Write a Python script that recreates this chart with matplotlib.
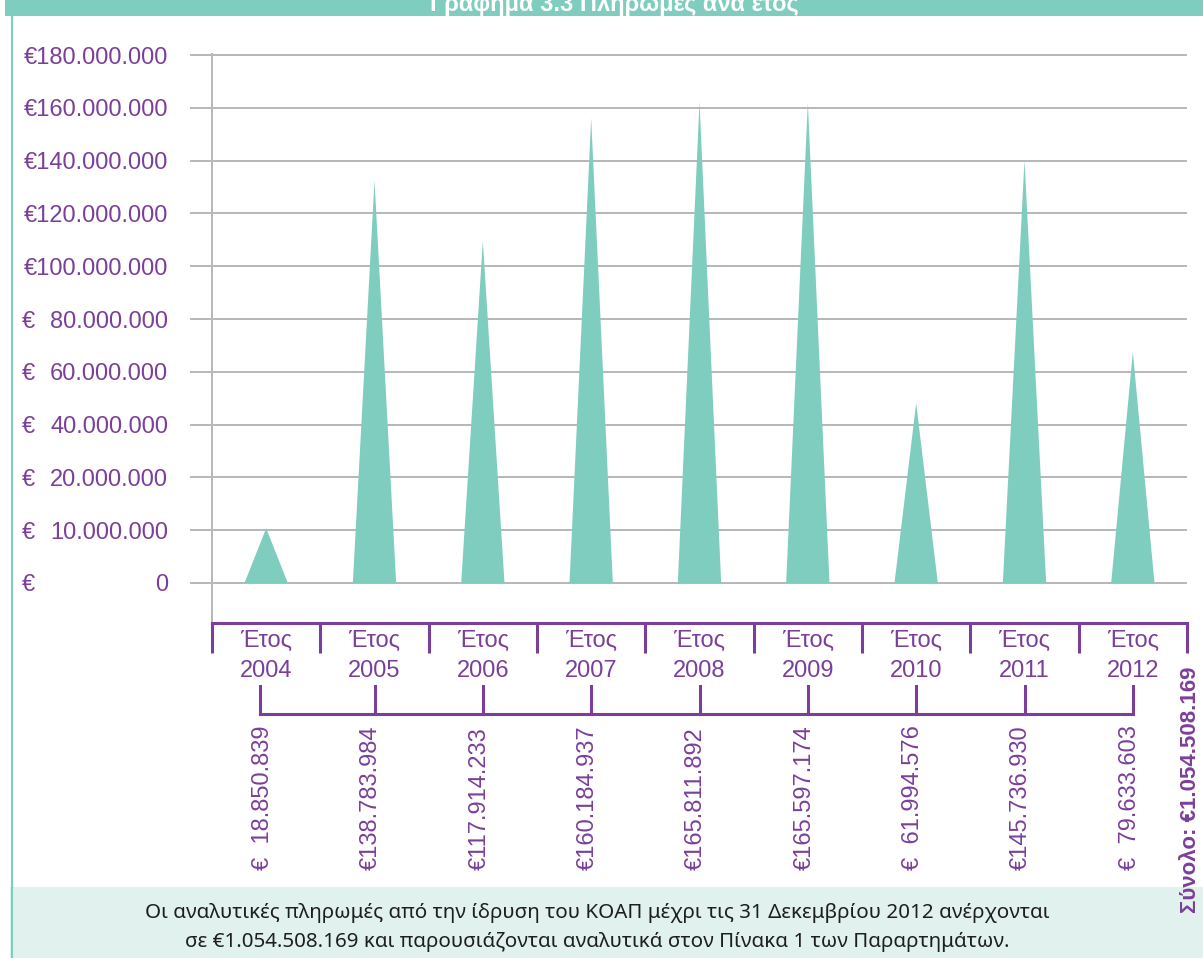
import matplotlib
matplotlib.use('Agg')
import matplotlib.pyplot as plt
from matplotlib.patches import Rectangle
from matplotlib.lines import Line2D
from matplotlib.transforms import blended_transform_factory
import numpy as np

plt.rcParams['font.family'] = ['Liberation Sans', 'DejaVu Sans']

# δεδομένα
years = ['2004', '2005', '2006', '2007', '2008', '2009', '2010', '2011', '2012']
payments = [18850839, 138783984, 117914233, 160184937, 165811892,
            165597174, 61994576, 145736930, 79633603]
payment_labels = ['€  18.850.839', '€138.783.984', '€117.914.233', '€160.184.937',
                  '€165.811.892', '€165.597.174', '€  61.994.576', '€145.736.930',
                  '€  79.633.603']
total_label = 'Σύνολο: €1.054.508.169'
ytick_labels = ['0', '10.000.000', '20.000.000', '40.000.000', '60.000.000',
                '80.000.000', '€100.000.000', '€120.000.000', '€140.000.000',
                '€160.000.000', '€180.000.000']
euro_apart = 6   # οι πρώτες 6 ετικέτες έχουν το € στην άκρη
title = 'Γράφημα 3.3 Πληρωμές ανά έτος'
note1 = 'Οι αναλυτικές πληρωμές από την ίδρυση του ΚΟΑΠ μέχρι τις 31 Δεκεμβρίου 2012 ανέρχονται'
note2 = 'σε €1.054.508.169 και παρουσιάζονται αναλυτικά στον Πίνακα 1 των Παραρτημάτων.'

TEAL = '#7fcdbf'
PURPLE = '#7b3f9b'
GREY = '#b6b8ba'
MINT = '#e1f1ee'
FS = 17

W, H = 1203, 958
fig = plt.figure(figsize=(W / 100, H / 100), dpi=100)


def fx(px):
    return px / W


def fy(py):
    return 1 - py / H


ax = fig.add_axes([fx(212), fy(623), fx(1187) - fx(212), fy(54) - fy(623)])
step = 18.2e6   # ο άξονας του πρωτοτύπου δεν είναι σε κλίμακα
ax.set_ylim(-0.758 * step, 10.02 * step)
ax.set_xlim(-0.5, len(years) - 0.5)

# τρίγωνα
for i, v in enumerate(payments):
    ax.fill([i - 0.2, i, i + 0.2], [0, v, 0], color=TEAL, lw=0, zorder=3)

# άξονας y
yticks = np.arange(len(ytick_labels)) * step
ax.set_yticks(yticks)
ax.set_yticklabels(ytick_labels)
ax.tick_params(axis='y', length=15.8, width=1.44, color=GREY, pad=15.8,
               labelcolor=PURPLE, labelsize=FS)
ax.yaxis.grid(True, color=GREY, lw=1.44)
ax.set_axisbelow(True)
trY = blended_transform_factory(fig.transFigure, ax.transData)
for t in yticks[:euro_apart]:
    ax.text(fx(22), t, '€', transform=trY, ha='left', va='center_baseline',
            color=PURPLE, fontsize=FS)

# άξονας x
ax.set_xticks(range(len(years)))
ax.set_xticks(np.arange(len(years) + 1) - 0.5, minor=True)
ax.tick_params(axis='x', which='major', length=0, pad=5, labelcolor=PURPLE,
               labelsize=FS)
ax.tick_params(axis='x', which='minor', length=21.6, width=2.2, color=PURPLE)
ax.set_xticklabels(['Έτος\n' + y for y in years], linespacing=1.45)

for s in ['top', 'right']:
    ax.spines[s].set_visible(False)
ax.spines['left'].set_color(GREY)
ax.spines['left'].set_linewidth(1.44)
ax.spines['bottom'].set_color(PURPLE)
ax.spines['bottom'].set_linewidth(2.2)

# δεύτερη αγκύλη και ποσά
tr = blended_transform_factory(ax.transData, fig.transFigure)
fig.add_artist(Line2D([-0.06, len(years) - 1], [fy(714), fy(714)], transform=tr,
                      color=PURPLE, lw=2.2))
for i, lab in enumerate(payment_labels):
    xb = -0.06 if i == 0 else i
    fig.add_artist(Line2D([xb, xb], [fy(714), fy(686)], transform=tr,
                          color=PURPLE, lw=2.2))
    ax.text(i - 0.03, fy(870), lab, transform=tr, rotation=90, ha='center',
            va='bottom', color=PURPLE, fontsize=FS)

# πλαίσια
fig.add_artist(Rectangle((fx(5), fy(16)), 1 - fx(5), 16 / H,
                         transform=fig.transFigure, color=TEAL, lw=0))
fig.text(fx(614), fy(11), title, ha='center', va='baseline', color='white',
         fontsize=17, fontweight='bold')
fig.add_artist(Rectangle((fx(10), 0), 1 - fx(10), 71 / H,
                         transform=fig.transFigure, color=MINT, lw=0, zorder=0))
fig.add_artist(Line2D([fx(12), fx(12)], [fy(16), 0], color=TEAL, lw=1.5))
fig.text(fx(597), fy(913), note1, ha='center', va='center', fontsize=14.8,
         color='#1e1e1e', family=['Noto Sans', 'DejaVu Sans'])
fig.text(fx(597), fy(942), note2, ha='center', va='center', fontsize=14.8,
         color='#1e1e1e', family=['Noto Sans', 'DejaVu Sans'])

fig.text(fx(1190), fy(913), total_label, rotation=90, ha='center', va='bottom',
         fontsize=16, fontweight='bold', color=PURPLE, zorder=5)

fig.savefig('out.png', dpi=100)
